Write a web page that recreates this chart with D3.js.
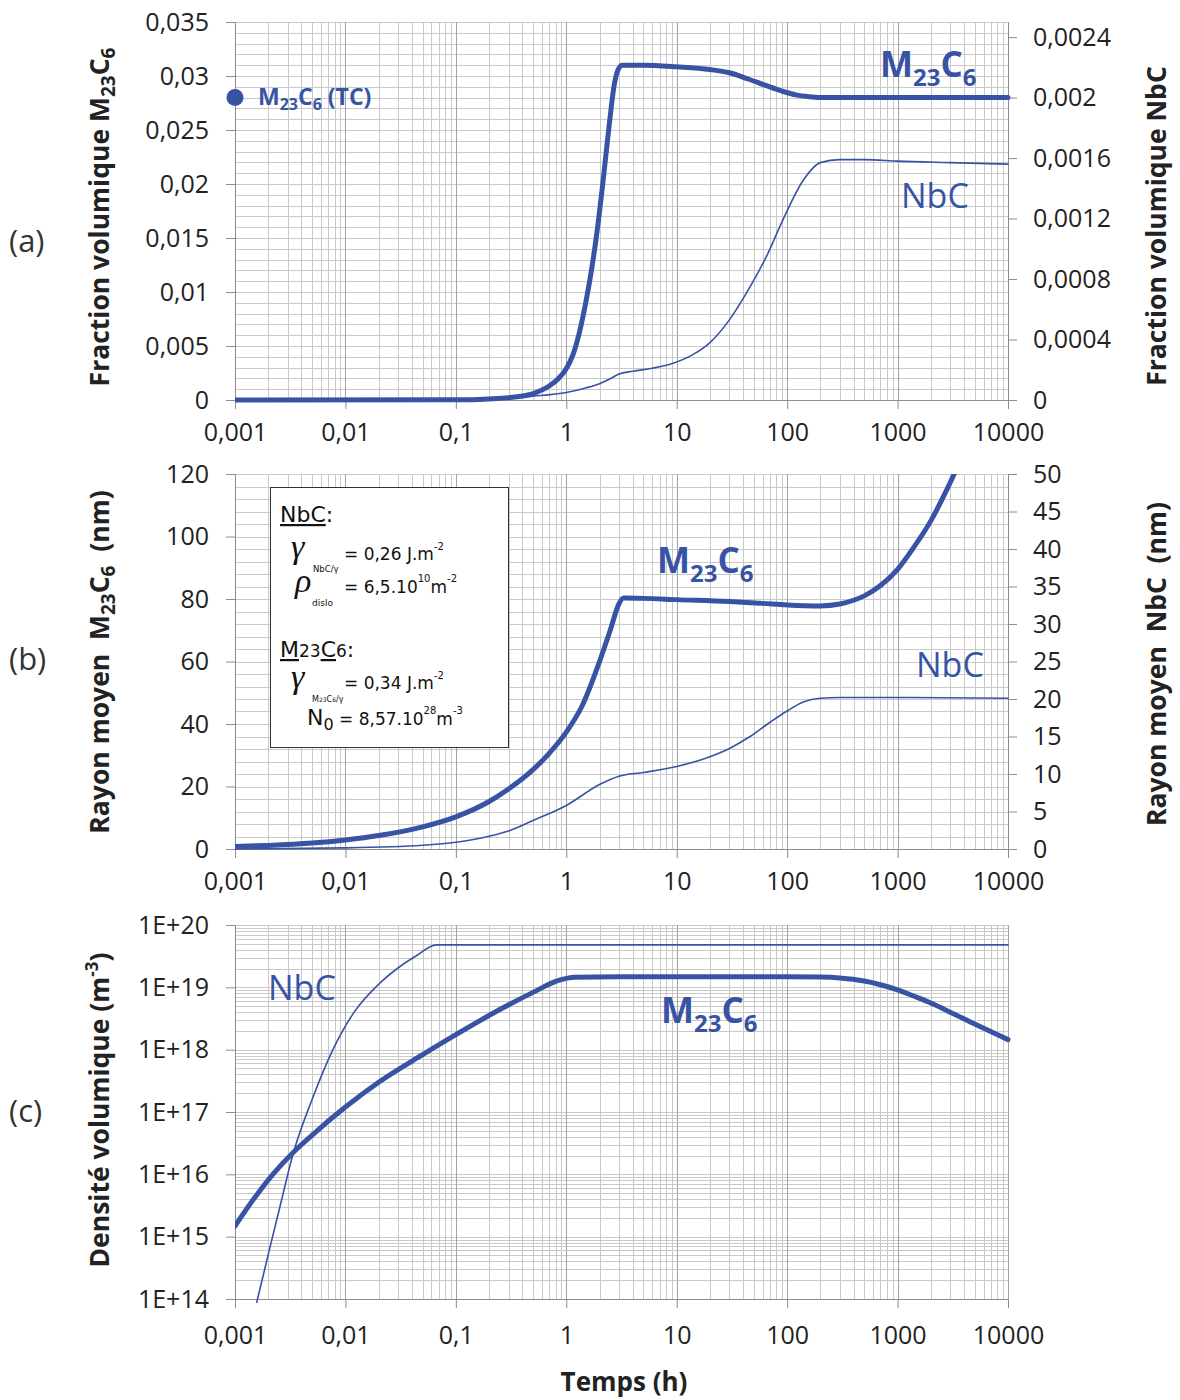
<!DOCTYPE html>
<html><head><meta charset="utf-8">
<script src="https://cdn.jsdelivr.net/npm/d3@7"></script>
<style>body{margin:0;background:#fff}svg{display:block}text{white-space:pre}</style>
</head><body>
<svg id="c" width="1180" height="1400"></svg>
<script>
// ---------- DATA ----------
const xTicks = [0.001,0.01,0.1,1,10,100,1000,10000];
const xTickLabels = ["0,001","0,01","0,1","1","10","100","1000","10000"];

// (a) volume fraction
const fracM23Ticks = [0,0.005,0.01,0.015,0.02,0.025,0.03,0.035];
const fracM23Labels = ["0","0,005","0,01","0,015","0,02","0,025","0,03","0,035"];
const fracNbTicks = [0,0.0004,0.0008,0.0012,0.0016,0.002,0.0024];
const fracNbLabels = ["0","0,0004","0,0008","0,0012","0,0016","0,002","0,0024"];
const fracM23_t = [0.001,0.1,0.2,0.3,0.5,0.7,0.85,1,1.15,1.31,1.52,1.72,1.91,2.16,2.45,2.72,2.95,3.21,5,10,20,30,45,65,90,120,160,220,1000,10000];
const fracM23_v = [0,0.00002,0.0001,0.00022,0.0006,0.0013,0.0020,0.0029,0.0042,0.0062,0.0093,0.0125,0.0158,0.0204,0.0255,0.0292,0.0306,0.0310,0.0310,0.03085,0.0306,0.0303,0.0297,0.0291,0.0286,0.02825,0.02808,0.0280,0.0280,0.0280];
const fracNb_t = [0.001,0.1,0.3,0.5,1,1.5,2,2.5,3,4,6,9,14,20,30,43,65,94,139,200,300,500,1000,3000,10000];
const fracNb_v = [0,0.000003,0.000012,0.000025,0.00005,0.00008,0.000108,0.00014,0.000172,0.00019,0.00021,0.00024,0.0003,0.00038,0.00053,0.00071,0.00095,0.00121,0.00145,0.00157,0.00159,0.00159,0.00158,0.00157,0.00156];
const tcPoint_t = [0.001];
const tcPoint_v = [0.028];

// (b) mean radius (nm)
const radM23Ticks = [0,20,40,60,80,100,120];
const radNbTicks = [0,5,10,15,20,25,30,35,40,45,50];
const radM23_t = [0.001,0.002,0.005,0.01,0.02,0.05,0.1,0.2,0.3,0.5,0.7,1,1.4,2,2.5,3,3.3,5,10,30,60,100,200,300,400,500,700,1000,1400,2000,2750,3250,4000];
const radM23_v = [0.8,1.15,1.9,2.9,4.3,7.1,10.3,15.2,19.2,25.4,30.6,37.4,46,60,70,78.5,80.3,80.2,79.8,79.2,78.6,78.1,77.8,78.4,79.6,81.0,84.3,89.5,96.5,105,114.5,120,128];
const radNb_t = [0.001,0.01,0.05,0.1,0.2,0.3,0.5,1,2,3,5,10,20,30,45,70,100,140,200,300,1000,10000];
const radNb_v = [0.02,0.15,0.5,0.9,1.7,2.4,3.8,5.8,8.6,9.7,10.2,11,12.3,13.4,14.9,16.9,18.4,19.6,20.1,20.2,20.2,20.1];

// (c) number density (m^-3)
const densTicks = [1e14,1e15,1e16,1e17,1e18,1e19,1e20];
const densLabels = ["1E+14","1E+15","1E+16","1E+17","1E+18","1E+19","1E+20"];
const densM23_t = [0.001,0.0015,0.0022,0.0034,0.005,0.01,0.02,0.05,0.1,0.25,0.5,0.85,1.2,3,10,100,200,300,500,700,1000,1500,2000,3000,5000,10000];
const densM23_v = [1.48e15,4.17e15,1e16,2.29e16,4.27e16,1.2e17,3.0e17,8.3e17,1.74e18,4.4e18,8.3e18,1.29e19,1.45e19,1.48e19,1.48e19,1.48e19,1.46e19,1.41e19,1.26e19,1.1e19,9.1e18,6.9e18,5.6e18,4e18,2.57e18,1.45e18];
const densNb_t = [0.0015,0.0016,0.002,0.0025,0.0034,0.005,0.0077,0.012,0.02,0.031,0.045,0.066,0.1,1,10,100,1000,10000];
const densNb_v = [6.3e13,1e14,5.2e14,2.6e15,2.3e16,1.6e17,1e18,4e18,1.12e19,2.14e19,3.3e19,4.8e19,4.8e19,4.8e19,4.8e19,4.8e19,4.8e19,4.8e19];

// ---------- DRAW ----------
const BLUE = "#3953a4";
const svg = d3.select("#c");
const X0 = 235, X1 = 1008;
const x = d3.scaleLog().domain([0.001,10000]).range([X0,X1]);
const FONT = "'Open Sans', sans-serif";

const panels = [
  {key:"a", top:22, bottom:400, xPad:14,
   yL: d3.scaleLinear().domain([0,0.035]), yR: d3.scaleLinear().domain([0,0.0025]),
   hGrid: d3.range(0,36).map(i=>i*0.001), lTicks: fracM23Ticks, lLabels: fracM23Labels,
   rTicks: fracNbTicks, rLabels: fracNbLabels},
  {key:"b", top:474, bottom:849, xPad:14,
   yL: d3.scaleLinear().domain([0,120]), yR: d3.scaleLinear().domain([0,50]),
   hGrid: d3.range(0,31).map(i=>i*4), lTicks: radM23Ticks, lLabels: radM23Ticks.map(String),
   rTicks: radNbTicks, rLabels: radNbTicks.map(String)},
  {key:"c", top:925, bottom:1299, xPad:18,
   yL: d3.scaleLog().domain([1e14,1e20]), yR: null,
   hGrid: (function(){const a=[];for(let e=14;e<20;e++)for(let k=1;k<10;k++)a.push(k*Math.pow(10,e));a.push(1e20);return a;})(),
   lTicks: densTicks, lLabels: densLabels}
];

const vGrid = [];
for (let e=-3;e<4;e++) for (let k=1;k<10;k++) vGrid.push({v:k*Math.pow(10,e), major:k===1});
vGrid.push({v:10000, major:true});

panels.forEach(p=>{
  p.yL.range([p.bottom,p.top]);
  if (p.yR) p.yR.range([p.bottom,p.top]);
  const g = svg.append("g");
  g.selectAll(".hg").data(p.hGrid).join("line")
    .attr("x1",X0).attr("x2",X1)
    .attr("y1",d=>Math.round(p.yL(d))+0.5).attr("y2",d=>Math.round(p.yL(d))+0.5)
    .attr("stroke","#c9c9c9").attr("stroke-width",1);
  g.selectAll(".vg").data(vGrid).join("line")
    .attr("x1",d=>Math.round(x(d.v))+0.5).attr("x2",d=>Math.round(x(d.v))+0.5)
    .attr("y1",p.top).attr("y2",p.bottom)
    .attr("stroke",d=>d.major?"#a3a3a3":"#c9c9c9").attr("stroke-width",1);
  const ax = g.append("g").attr("transform",`translate(0,${p.bottom})`)
    .call(d3.axisBottom(x).tickValues(xTicks).tickFormat((d,i)=>xTickLabels[i]).tickSize(9).tickSizeOuter(0).tickPadding(p.xPad));
  const ay = g.append("g").attr("transform",`translate(${X0},0)`)
    .call(d3.axisLeft(p.yL).tickValues(p.lTicks).tickFormat((d,i)=>p.lLabels[i]).tickSize(9).tickSizeOuter(0).tickPadding(17));
  const axes=[ax,ay];
  if (p.yR) {
    const ar = g.append("g").attr("transform",`translate(${X1},0)`)
      .call(d3.axisRight(p.yR).tickValues(p.rTicks).tickFormat((d,i)=>p.rLabels[i]).tickSize(9).tickSizeOuter(0).tickPadding(16));
    axes.push(ar);
  }
  axes.forEach(a=>{
    a.select(".domain").attr("stroke","#8c8c8c");
    a.selectAll(".tick line").attr("stroke","#8c8c8c");
    a.selectAll(".tick text").attr("font-family",FONT).attr("font-size",25).attr("fill","#222");
  });
  svg.append("clipPath").attr("id","clip"+p.key).append("rect")
    .attr("x",X0).attr("y",p.top).attr("width",X1-X0+3).attr("height",p.bottom-p.top+4);
  p.g = svg.append("g").attr("clip-path",`url(#clip${p.key})`);
});

function drawLine(p, ts, vs, yS, w){
  const data = ts.map((t,i)=>[t,vs[i]]);
  p.g.append("path").datum(data)
    .attr("d", d3.line().x(d=>x(d[0])).y(d=>yS(d[1])).curve(d3.curveMonotoneX))
    .attr("fill","none").attr("stroke",BLUE).attr("stroke-width",w)
    .attr("stroke-linejoin","round").attr("stroke-linecap","round");
}
const [pa,pb,pc] = panels;
drawLine(pa, fracNb_t, fracNb_v, pa.yR, 1.6);
drawLine(pa, fracM23_t, fracM23_v, pa.yL, 5);
drawLine(pb, radNb_t, radNb_v, pb.yR, 1.6);
drawLine(pb, radM23_t, radM23_v, pb.yL, 5);
drawLine(pc, densNb_t, densNb_v, pc.yL, 1.6);
drawLine(pc, densM23_t, densM23_v, pc.yL, 5);

svg.selectAll(".tc").data(tcPoint_t.map((t,i)=>[t,tcPoint_v[i]])).join("circle")
  .attr("cx",d=>x(d[0])).attr("cy",d=>pa.yL(d[1])).attr("r",8.5).attr("fill",BLUE);

// ---------- TEXT ----------
function m23(sel, size, subSize, shift){
  sel.append("tspan").text("M");
  sel.append("tspan").attr("font-size",subSize).attr("dy",shift).text("23");
  sel.append("tspan").attr("dy",-shift).text("C");
  sel.append("tspan").attr("font-size",subSize).attr("dy",shift).text("6");
  return sel;
}
function label(xp, yp, size, bold){
  return svg.append("text").attr("x",xp).attr("y",yp).attr("font-family",FONT)
    .attr("font-size",size).attr("font-weight",bold?"bold":"normal").attr("fill",BLUE);
}
{ const t = label(258,105,23,true); m23(t,23,16,5); t.append("tspan").attr("dy",-5).text(" (TC)"); }
m23(label(880,77,35,true),35,24,9);
label(901,208,34,false).text("NbC");
m23(label(657,573,35,true),35,24,9);
label(916,677,34,false).text("NbC");
label(268,1000,34,false).text("NbC");
m23(label(661,1023,35,true),35,24,9);

[["(a)",252],["(b)",670],["(c)",1122]].forEach(d=>{
  svg.append("text").attr("x",9).attr("y",d[1]).attr("font-family",FONT).attr("font-size",31).attr("fill","#333").text(d[0]);
});

function vtitle(xp, yc){
  return svg.append("text").attr("transform",`translate(${xp},${yc}) rotate(-90)`).attr("text-anchor","middle")
    .attr("font-family",FONT).attr("font-size",26.5).attr("font-weight","bold").attr("fill","#222");
}
{ const t = vtitle(109,217); t.append("tspan").text("Fraction volumique "); m23(t,26.5,19,6); }
vtitle(1166,226).text("Fraction volumique NbC");
{ const t = vtitle(109,662); t.append("tspan").text("Rayon moyen  "); m23(t,26.5,19,6); t.append("tspan").attr("dy",-6).text("  (nm)"); }
vtitle(1166,664).text("Rayon moyen  NbC  (nm)");
{ const t = vtitle(109,1110); t.append("tspan").text("Densité volumique (m"); t.append("tspan").attr("font-size",17).attr("dy",-11).text("-3"); t.append("tspan").attr("dy",11).text(")"); }
svg.append("text").attr("x",624).attr("y",1391).attr("text-anchor","middle").attr("font-family",FONT)
  .attr("font-size",26).attr("font-weight","bold").attr("fill","#222").text("Temps (h)");

// parameter box
svg.append("rect").attr("x",270.5).attr("y",487.5).attr("width",238).attr("height",260)
  .attr("fill","#fff").attr("stroke","#333").attr("stroke-width",1);
const BF = "'DejaVu Sans', Verdana, sans-serif";
const GF = "'Liberation Serif', 'DejaVu Serif', serif";
function bt(xp,yp,size){ return svg.append("text").attr("x",xp).attr("y",yp).attr("font-family",BF).attr("font-size",size).attr("fill","#111"); }
{ const t = bt(280,522,22); t.append("tspan").attr("text-decoration","underline").text("NbC"); t.append("tspan").text(":"); }
bt(291,558,34).attr("font-family",GF).attr("font-style","italic").text("γ");
bt(313,572,8.5).text("NbC/γ");
{ const t = bt(344,560,17); t.append("tspan").text("= 0,26 J.m"); t.append("tspan").attr("font-size",10).attr("dy",-10).text("-2"); }
bt(295,592,34).attr("font-family",GF).attr("font-style","italic").text("ρ");
bt(312,606,9).text("dislo");
{ const t = bt(344,593,17); t.append("tspan").text("= 6,5.10"); t.append("tspan").attr("font-size",10).attr("dy",-11).text("10"); t.append("tspan").attr("dy",11).text("m"); t.append("tspan").attr("font-size",10).attr("dy",-11).text("-2"); }
{ const t = bt(280,657,22);
  t.append("tspan").attr("text-decoration","underline").text("M");
  t.append("tspan").attr("font-size",17).text("23");
  t.append("tspan").attr("text-decoration","underline").text("C");
  t.append("tspan").attr("font-size",17).text("6");
  t.append("tspan").text(":"); }
bt(291,688,34).attr("font-family",GF).attr("font-style","italic").text("γ");
{ const t = bt(312,702,8); t.append("tspan").text("M"); t.append("tspan").attr("font-size",6).text("23"); t.append("tspan").text("C"); t.append("tspan").attr("font-size",6).text("6"); t.append("tspan").text("/γ"); }
{ const t = bt(344,689,17); t.append("tspan").text("= 0,34 J.m"); t.append("tspan").attr("font-size",10).attr("dy",-10).text("-2"); }
{ const t = bt(307,725,22); t.append("tspan").text("N"); t.append("tspan").attr("font-size",16).attr("dy",5).text("0"); t.append("tspan").attr("font-size",17).attr("dy",-5).text(" = 8,57.10"); t.append("tspan").attr("font-size",10).attr("dy",-11).text("28"); t.append("tspan").attr("font-size",17).attr("dy",11).text("m"); t.append("tspan").attr("font-size",10).attr("dy",-11).text("-3"); }
</script>
</body></html>
